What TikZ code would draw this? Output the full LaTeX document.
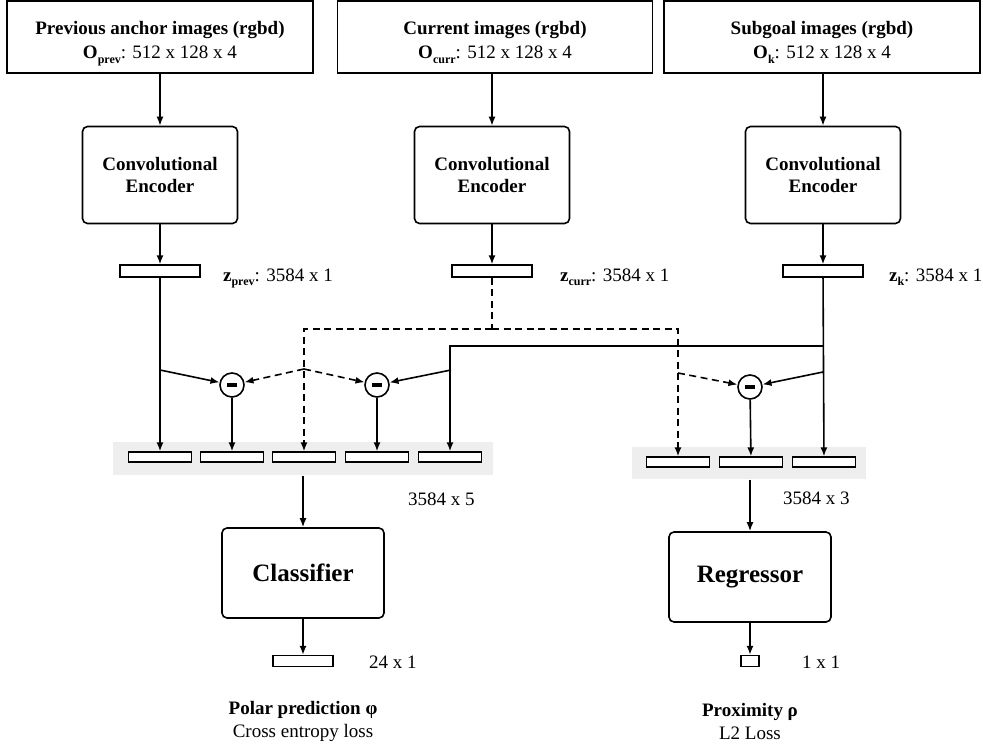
\documentclass[tikz,border=0pt]{standalone}
\usepackage{fontspec}
\setmainfont{Liberation Serif}
\usetikzlibrary{arrows.meta,positioning}

\newcommand{\subbf}[1]{\raisebox{-5pt}[0pt][0pt]{\fontsize{12}{12}\selectfont\textbf{#1}}}

\begin{document}
\begin{tikzpicture}[x=1pt, y=-1pt, line width=1.6pt, >={Latex[length=9pt,width=7pt]}]
		\tikzstyle{every node}=[font=\fontsize{19}{23}\selectfont];
		\tikzstyle{inbox}=[draw, minimum height=72pt, align=center];
		\tikzstyle{encbox}=[draw, rounded corners=5pt, minimum width=155pt, minimum height=97pt, align=center, font=\fontsize{19}{22}\selectfont\bfseries];
		\tikzstyle{headbox}=[draw, rounded corners=5pt, minimum width=162pt, minimum height=90pt, font=\fontsize{25}{28}\selectfont\bfseries];
		\tikzstyle{vec}=[draw, fill=white, line width=1.3pt, minimum width=63pt, minimum height=10pt, inner sep=0pt];
		\tikzstyle{zvec}=[vec, minimum width=80pt, minimum height=12pt];
		\tikzstyle{stack}=[fill=gray!13, inner sep=0pt];
		\tikzstyle{minus}=[draw, circle, fill=white, minimum size=24pt, inner sep=0pt];
		\tikzstyle{dim}=[anchor=base west];
		\tikzstyle{skip}=[dash pattern=on 7pt off 4.5pt];

		\useasboundingbox (0,0) rectangle (983,746);

		% inputs
		\node[inbox, minimum width=306pt] (inprev) at (160,37) {\rule{0pt}{19pt}\textbf{Previous anchor images (rgbd)}\\[1pt]\textbf{O}\subbf{prev}: 512 x 128 x 4};
		\node[inbox, minimum width=315pt] (incurr) at (495,37) {\rule{0pt}{19pt}\textbf{Current images (rgbd)}\\[1pt]\textbf{O}\subbf{curr}: 512 x 128 x 4};
		\node[inbox, minimum width=316pt] (ink) at (822,37) {\rule{0pt}{19pt}\textbf{Subgoal images (rgbd)}\\[1pt]\textbf{O}\subbf{k}: 512 x 128 x 4};

		\node[encbox] (encprev) at (160,175) {Convolutional\\Encoder};
		\node[encbox] (enccurr) at (492,175) {Convolutional\\Encoder};
		\node[encbox] (enck) at (823,175) {Convolutional\\Encoder};

		\node[zvec] (zprev) at (160,271) {};
		\node[zvec] (zcurr) at (492,271) {};
		\node[zvec] (zk) at (823,271) {};
		\node[dim] (zprevlbl) at (219,281) {\textbf{z}\subbf{prev}: 3584 x 1};
		\node[dim] (zcurrlbl) at (556,281) {\textbf{z}\subbf{curr}: 3584 x 1};
		\node[dim] (zklbl) at (885,281) {\textbf{z}\subbf{k}: 3584 x 1};

		% stacked features
		\node[stack, minimum width=380pt, minimum height=33pt] (stackcls) at (303,458.5) {};
		\node[stack, minimum width=234pt, minimum height=32pt] (stackreg) at (749,463) {};
		\foreach \i/\x in {1/160, 2/232, 3/304, 4/377, 5/450}
			\node[vec] (c\i) at (\x,457) {};
		\foreach \i/\x in {1/678, 2/751, 3/824}
			\node[vec] (r\i) at (\x,462) {};
		\node[dim] (clsdim) at (404,505) {3584 x 5};
		\node[dim] (regdim) at (779,504) {3584 x 3};

		\node[minus] (m1) at (232,385) {\rule{10pt}{4pt}};
		\node[minus] (m2) at (377,385) {\rule{10pt}{4pt}};
		\node[minus] (m3) at (750,387) {\rule{10pt}{4pt}};

		\coordinate (tprev) at (160,370);
		\coordinate (tcurr) at (492,329);
		\coordinate (tcurra) at (304,369);
		\coordinate (tcurrb) at (678,373);
		\coordinate (tk) at (823,346);
		\coordinate (tka) at (451,370);
		\coordinate (tkb) at (823,372);

		% heads
		\node[headbox] (cls) at (303,573) {Classifier};
		\node[headbox] (reg) at (750,577) {Regressor};
		\node[vec, minimum width=60pt, minimum height=11pt] (outcls) at (303,661) {};
		\node[vec, minimum width=18pt, minimum height=11pt] (outreg) at (750,661) {};
		\node[dim] (outclsdim) at (365,668) {24 x 1};
		\node[dim] (outregdim) at (798,668) {1 x 1};
		\node[align=center] (clsloss) at (303,721) {\textbf{Polar prediction φ}\\Cross entropy loss};
		\node[align=center] (regloss) at (750,721) {\textbf{Proximity ρ}\\L2 Loss};

		% connectors
		\draw[->] (inprev) -- (encprev);
		\draw[->] (incurr.south -| enccurr) -- (enccurr);
		\draw[->] (ink.south -| enck) -- (enck);
		\draw[->] (encprev) -- (zprev);
		\draw[->] (enccurr) -- (zcurr);
		\draw[->] (enck) -- (zk);

		\draw[->] (zprev) -- (c1);
		\draw[->] (tprev) -- (m1);
		\draw[skip] (zcurr) -- (tcurr);
		\draw[skip, ->] (tcurr) -- (tcurr -| c3) -- (c3);
		\draw[skip, ->] (tcurr) -- (tcurr -| r1) -- (r1);
		\draw[skip, ->] (tcurra) -- (m1);
		\draw[skip, ->] (tcurra) -- (m2);
		\draw[skip, ->] (tcurrb) -- (m3);
		\draw[->] (zk) -- (r3);
		\draw[->] (tk) -- (tk -| c5) -- (c5);
		\draw[->] (tka) -- (m2);
		\draw[->] (tkb) -- (m3);
		\draw[->] (m1) -- (c2);
		\draw[->] (m2) -- (c4);
		\draw[->] (m3) -- (r2);

		\draw[->] (stackcls.south -| cls) -- (cls);
		\draw[->] (stackreg.south -| reg) -- (reg);
		\draw[->] (cls) -- (outcls);
		\draw[->] (reg) -- (outreg);
	\end{tikzpicture}
\end{document}
